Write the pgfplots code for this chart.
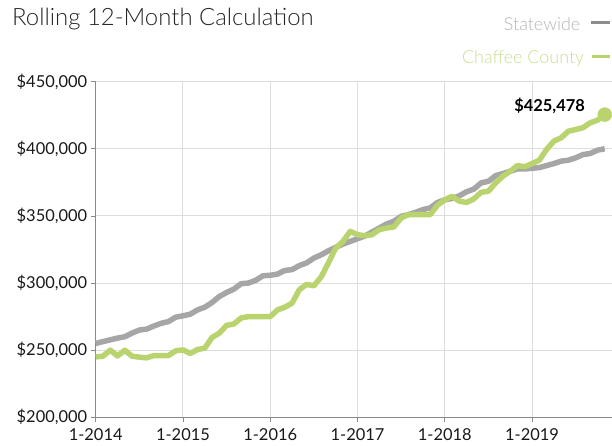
\documentclass[border=0pt]{standalone}
\usepackage{pgfplots}
\pgfplotsset{compat=1.18}
\usepackage{pgfplotstable}
\usepackage{fontspec}
\setmainfont{Lato}
\newfontfamily\lightfont{Lato Light}

\definecolor{stategray}{HTML}{A6A6A6}
\definecolor{statetxt}{HTML}{B4B4B4}
\definecolor{chaffee}{HTML}{B9D46E}
\definecolor{chaffeetxt}{HTML}{C8DD92}
\definecolor{gridgray}{HTML}{DDDDDD}
\definecolor{axgray}{HTML}{8A8A8A}

% month index (0 = 1-2014), statewide, Chaffee County
\pgfplotstableread{
m state chaffee
0 255000 245000
1 256400 245500
2 257700 250000
3 259000 245700
4 260000 250000
5 262700 245500
6 265000 244800
7 265700 244300
8 268000 246000
9 270000 246000
10 271300 246000
11 274600 249500
12 275600 250200
13 276800 247500
14 280000 250500
15 282000 251500
16 285500 259500
17 290000 262700
18 293000 268500
19 295500 269500
20 299500 274000
21 300000 275000
22 302000 275000
23 305400 275000
24 305800 275000
25 306700 280000
26 309400 282000
27 310000 285000
28 313000 295000
29 315000 299000
30 318600 298000
31 321000 304500
32 324000 315000
33 326600 326000
34 329000 331000
35 331000 338500
36 333000 336000
37 335000 335300
38 338000 336000
39 341000 339800
40 344000 341000
41 346000 341800
42 349700 348500
43 351000 351000
44 352700 351000
45 354700 351000
46 356000 351000
47 360000 358000
48 362000 362000
49 363000 364600
50 365000 361000
51 368000 360000
52 370000 362700
53 374600 367600
54 375800 368400
55 380000 374600
56 381600 379600
57 383300 383300
58 385000 387500
59 385000 386600
60 385500 389000
61 386000 391500
62 387500 399500
63 389000 405700
64 390800 408200
65 391500 413100
66 393300 414400
67 395700 415700
68 396500 419400
69 399000 421300
70 400000 425478
}\datatable

\begin{document}
\begin{tikzpicture}[x=1bp,y=1bp]
% page = 612 x 446, axis box lower-left corner at the origin
\useasboundingbox (-95.7,-28.7) rectangle (516.3,417.3);

\node[anchor=base west, inner sep=0, font=\lightfont\fontsize{24}{24}\selectfont, text=black!85]
  at (-83.7,391.9) {Rolling 12-Month Calculation};

\node[anchor=base east, inner sep=0, font=\lightfont\fontsize{18}{18}\selectfont, text=statetxt]
  at (484.7,386.9) {Statewide};
\draw[stategray!85!black, line width=3bp] (495.6,395.1) -- (514.3,395.1);
\node[anchor=base east, inner sep=0, font=\lightfont\fontsize{18}{18}\selectfont, text=chaffeetxt]
  at (488.6,353.7) {Chaffee County};
\draw[chaffee, line width=3bp] (496.3,360.7) -- (514.3,360.7);

\begin{axis}[
    scale only axis, width=516.3bp, height=335.6bp,
    xmin=0, xmax=71, ymin=200000, ymax=450000,
    axis lines*=left,
    axis line style={axgray, line width=0.8bp},
    tick style={axgray, line width=0.8bp},
    tick align=outside, major tick length=5bp,
    xtick={0,12,24,36,48,60},
    xticklabels={1-2014,1-2015,1-2016,1-2017,1-2018,1-2019},
    ytick={200000,250000,300000,350000,400000,450000},
    yticklabels={{\$200,000},{\$250,000},{\$300,000},{\$350,000},{\$400,000},{\$450,000}},
    scaled y ticks=false,
    grid=major,
    major grid style={gridgray, line width=1bp},
    tick label style={font=\fontsize{16.5}{16.5}\selectfont, text=black!90},
    xticklabel style={yshift=-3bp},
    clip=false,
]
\addplot[stategray, line width=5.5bp, line join=round] table[x=m, y=state] {\datatable};
\addplot[chaffee, line width=5.5bp, line join=round] table[x=m, y=chaffee] {\datatable};
\addplot[only marks, mark=*, mark size=7bp, chaffee] coordinates {(70,425478)};
\node[anchor=base east, inner sep=0, font=\bfseries\fontsize{16.5}{16.5}\selectfont]
  at (axis cs:67.3,427500) {\$425,478};
\end{axis}
\end{tikzpicture}
\end{document}
